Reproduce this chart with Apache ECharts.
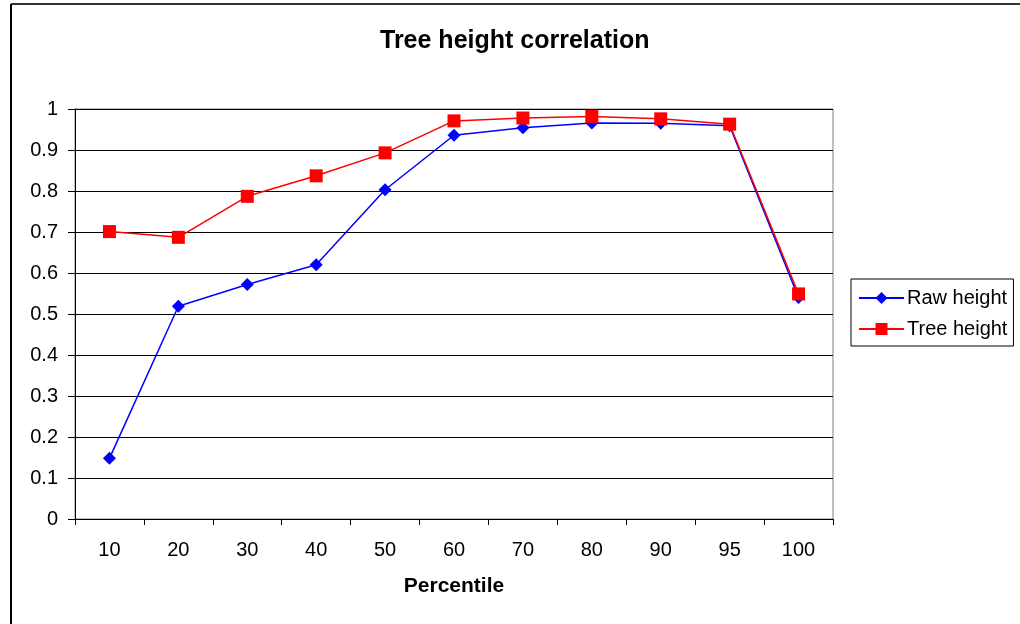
<!DOCTYPE html>
<html>
<head>
<meta charset="utf-8">
<title>Tree height correlation</title>
<script src="https://cdn.jsdelivr.net/npm/echarts@6/dist/echarts.min.js"></script>
<style>
  html, body { margin: 0; padding: 0; background: #fff; }
  #chart { width: 1020px; height: 624px; }
</style>
</head>
<body>
<div id="chart"></div>
<script>
// percentiles on the x axis
var percentiles = ['10', '20', '30', '40', '50', '60', '70', '80', '90', '95', '100']

// correlation values
var rawHeight = [0.148, 0.519, 0.572, 0.620, 0.803, 0.936, 0.954, 0.966, 0.965, 0.959, 0.540]
var treeHeight = [0.701, 0.687, 0.787, 0.837, 0.893, 0.971, 0.978, 0.982, 0.976, 0.963, 0.549]

var font = 'Liberation Sans, Arial, sans-serif'

var chart = echarts.init(document.getElementById('chart'))

chart.setOption({
  backgroundColor: '#fff',
  animation: false,
  title: {
    text: 'Tree height correlation',
    left: 380,
    top: 29,
    padding: 0,
    textStyle: { fontFamily: font, fontSize: 25, fontWeight: 'bold', color: '#000' }
  },
  legend: {
    orient: 'vertical',
    left: 851,
    top: 279,
    padding: [9, 6, 7, 7],
    itemWidth: 45,
    itemHeight: 15,
    itemGap: 11,
    borderColor: '#000',
    borderWidth: 1,
    backgroundColor: '#fff',
    textStyle: { fontFamily: font, fontSize: 20, color: '#000', padding: [0, 0, 0, -2] },
    data: ['Raw height', 'Tree height']
  },
  grid: {
    left: 75,
    top: 109,
    right: 187,
    bottom: 105,
    show: true,
    borderColor: '#808080',
    borderWidth: 1,
    backgroundColor: '#fff'
  },
  xAxis: {
    type: 'category',
    data: percentiles,
    boundaryGap: true,
    name: 'Percentile',
    nameLocation: 'middle',
    nameGap: 57,
    nameTextStyle: { fontFamily: font, fontSize: 21, fontWeight: 'bold', color: '#000' },
    axisLine: { lineStyle: { color: '#000', width: 1 } },
    axisTick: { show: true, length: 6, lineStyle: { color: '#000' } },
    axisLabel: { fontFamily: font, fontSize: 20, color: '#000', margin: 21 },
    splitLine: { show: false }
  },
  yAxis: {
    type: 'value',
    min: 0,
    max: 1,
    interval: 0.1,
    axisLine: { show: true, lineStyle: { color: '#000', width: 1 } },
    axisTick: { show: true, length: 7, lineStyle: { color: '#000' } },
    axisLabel: {
      fontFamily: font, fontSize: 20, color: '#000', margin: 17,
      formatter: function (v) { return String(Math.round(v * 10) / 10) }
    },
    splitLine: { show: true, lineStyle: { color: '#000', width: 1 } }
  },
  series: [
    {
      name: 'Raw height',
      type: 'line',
      data: rawHeight,
      symbol: 'diamond',
      symbolSize: 13,
      color: '#0000ff',
      lineStyle: { width: 1.5, color: '#0000ff' },
      itemStyle: { color: '#0000ff' }
    },
    {
      name: 'Tree height',
      type: 'line',
      data: treeHeight,
      symbol: 'rect',
      symbolSize: 13,
      color: '#ff0000',
      lineStyle: { width: 1.5, color: '#ff0000' },
      itemStyle: { color: '#ff0000' }
    }
  ],
  graphic: [
    // outer chart-area border (top and left edges visible in the screenshot)
    { type: 'line', shape: { x1: 11, y1: 4, x2: 1020, y2: 4 }, style: { stroke: '#333', lineWidth: 2 } },
    { type: 'line', shape: { x1: 11, y1: 4, x2: 11, y2: 624 }, style: { stroke: '#000', lineWidth: 2 } }
  ]
})
</script>
</body>
</html>
